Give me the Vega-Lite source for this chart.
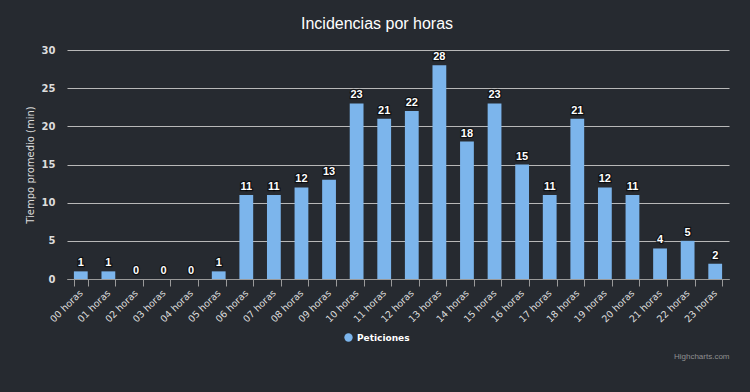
{
  "$schema": "https://vega.github.io/schema/vega-lite/v6.json",
  "width": 662,
  "height": 229,
  "autosize": {"type": "none"},
  "padding": {"left": 67, "top": 50, "right": 21, "bottom": 113},
  "background": "#262a30",
  "title": {"text": "Incidencias por horas", "font": "Liberation Sans", "fontSize": 16, "fontWeight": "normal", "color": "#ffffff", "anchor": "middle", "frame": "bounds", "offset": 13},
  "data": {"values": [
    {"hora": "00 horas", "valor": 1}, {"hora": "01 horas", "valor": 1}, {"hora": "02 horas", "valor": 0},
    {"hora": "03 horas", "valor": 0}, {"hora": "04 horas", "valor": 0}, {"hora": "05 horas", "valor": 1},
    {"hora": "06 horas", "valor": 11}, {"hora": "07 horas", "valor": 11}, {"hora": "08 horas", "valor": 12},
    {"hora": "09 horas", "valor": 13}, {"hora": "10 horas", "valor": 23}, {"hora": "11 horas", "valor": 21},
    {"hora": "12 horas", "valor": 22}, {"hora": "13 horas", "valor": 28}, {"hora": "14 horas", "valor": 18},
    {"hora": "15 horas", "valor": 23}, {"hora": "16 horas", "valor": 15}, {"hora": "17 horas", "valor": 11},
    {"hora": "18 horas", "valor": 21}, {"hora": "19 horas", "valor": 12}, {"hora": "20 horas", "valor": 11},
    {"hora": "21 horas", "valor": 4}, {"hora": "22 horas", "valor": 5}, {"hora": "23 horas", "valor": 2}
  ]},
  "encoding": {
    "x": {"field": "hora", "type": "nominal", "sort": null,
      "scale": {"paddingInner": 0.5, "paddingOuter": 0.25},
      "axis": {"title": "Highcharts.com", "titleFont": "Liberation Sans", "titleFontSize": 8, "titleColor": "#909090", "titleFontWeight": "normal",
        "titleAnchor": "end", "titleAlign": "right", "titleX": 662, "titleY": 79, "titleBaseline": "alphabetic",
        "labelAngle": -45, "labelAlign": "right", "labelBaseline": "middle", "labelFont": "DejaVu Sans", "labelFontSize": 9.5,
        "labelColor": "#dddddd", "labelPadding": 5, "tickBand": "extent", "tickSize": 7, "tickColor": "#9a9a9a",
        "domainColor": "#9a9a9a", "grid": false}},
    "y": {"field": "valor", "type": "quantitative", "scale": {"domain": [0, 30]},
      "axis": {"title": "Tiempo promedio (min)", "titleFont": "DejaVu Sans", "titleFontSize": 10, "titleColor": "#dddddd", "titleFontWeight": "normal",
        "titlePadding": 6, "values": [0, 5, 10, 15, 20, 25, 30], "labelFont": "DejaVu Sans", "labelFontSize": 10, "labelFontWeight": "bold",
        "labelColor": "#dddddd", "labelPadding": 12, "ticks": false, "domain": false, "gridColor": "#b8b8b8", "gridWidth": 1}}
  },
  "layer": [
    {"mark": {"type": "bar"},
     "encoding": {"color": {"datum": "Peticiones", "type": "nominal", "scale": {"range": ["#7cb5ec"]},
       "legend": {"orient": "none", "legendX": 277, "legendY": 283, "direction": "horizontal", "title": null, "symbolType": "circle",
         "symbolSize": 70, "symbolStrokeWidth": 0, "labelFont": "DejaVu Sans", "labelFontSize": 9, "labelFontWeight": "bold",
         "labelColor": "#ffffff", "padding": 0}}}},
    {"mark": {"type": "text", "font": "Liberation Sans", "fontSize": 11, "fontWeight": "bold", "dy": -5, "baseline": "alphabetic",
      "fill": "#000000", "stroke": "#000000", "strokeWidth": 2.5, "strokeOpacity": 0.6},
     "encoding": {"text": {"field": "valor", "type": "quantitative"}}},
    {"mark": {"type": "text", "font": "Liberation Sans", "fontSize": 11, "fontWeight": "bold", "dy": -5, "baseline": "alphabetic", "fill": "#ffffff"},
     "encoding": {"text": {"field": "valor", "type": "quantitative"}}}
  ],
  "config": {"view": {"stroke": null}}
}
